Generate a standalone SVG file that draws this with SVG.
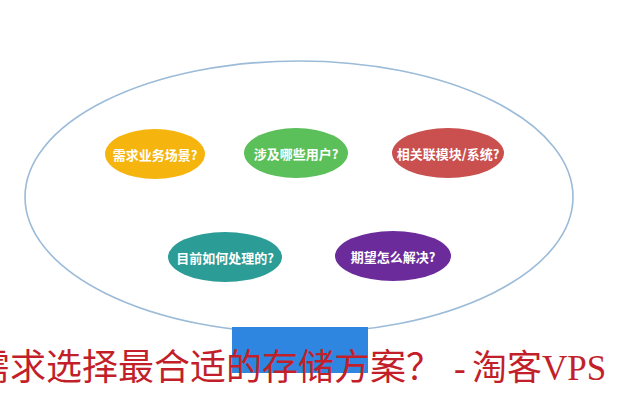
<svg xmlns="http://www.w3.org/2000/svg" width="620" height="400" viewBox="0 0 620 400">
  <style>
    .node-label { font-family: "Noto Sans CJK SC", "Noto Sans", sans-serif; font-size: 13px; font-weight: bold; fill: #ffffff; text-anchor: middle; dominant-baseline: central; }
    .caption { font-family: "Liberation Serif", "Noto Sans CJK SC", serif; fill: #c21f2a; }
  </style>
  <rect x="0" y="0" width="620" height="400" fill="#ffffff"/>
  <g id="container">
    <ellipse cx="299" cy="197" rx="274" ry="136" fill="none" stroke="#9bbbd8" stroke-width="1.6"/>
  </g>
  <g id="connectors"/>
  <g id="node-scene">
    <ellipse cx="155" cy="154" rx="50" ry="25" fill="#f6b40e"/>
    <text class="node-label" x="155" y="154">需求业务场景?</text>
  </g>
  <g id="node-users">
    <ellipse cx="296" cy="153" rx="52" ry="25" fill="#5bbf5a"/>
    <text class="node-label" x="296" y="153">涉及哪些用户?</text>
  </g>
  <g id="node-modules">
    <ellipse cx="448" cy="153" rx="56" ry="25" fill="#c9504e"/>
    <text class="node-label" x="448" y="153">相关联模块/系统?</text>
  </g>
  <g id="node-current">
    <ellipse cx="225" cy="257" rx="57" ry="25" fill="#2b9c96"/>
    <text class="node-label" x="225" y="257">目前如何处理的?</text>
  </g>
  <g id="node-expect">
    <ellipse cx="393" cy="256" rx="58" ry="25" fill="#6c2b9a"/>
    <text class="node-label" x="393" y="256">期望怎么解决?</text>
  </g>
  <g id="node-bottom">
    <rect x="232" y="327" width="136" height="46" fill="#2f86e0"/>
  </g>
  <g id="caption">
    <text class="caption" y="380"><tspan x="-26" font-size="36">需求选择最合适的存储方案？</tspan><tspan x="454" font-size="35">-</tspan><tspan x="472" font-size="35">淘客VPS</tspan></text>
  </g>
</svg>
